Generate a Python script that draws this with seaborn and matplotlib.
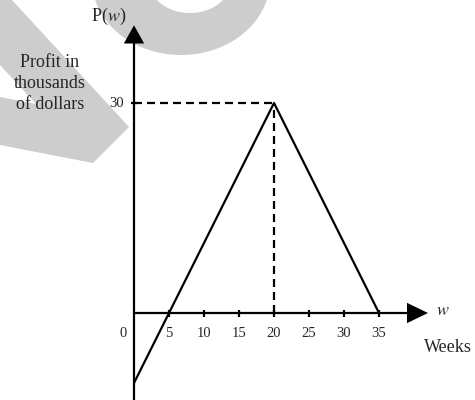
import numpy as np
import matplotlib
matplotlib.use("Agg")
import matplotlib.pyplot as plt
import seaborn as sns
import pandas as pd
from matplotlib.patches import Polygon

# Piecewise-linear profit function P(w), in thousands of dollars
weeks = [0, 20, 35]
profit = [-10, 30, 0]
week_ticks = [5, 10, 15, 20, 25, 30, 35]
profit_ticks = [30]

sns.set_theme(style="white")
plt.rcParams["font.family"] = ["Liberation Serif", "DejaVu Serif"]
plt.rcParams["mathtext.fontset"] = "stix"

W, H = 475, 400
fig = plt.figure(figsize=(W / 100, H / 100), dpi=100)

# light grey decorative shapes behind the graph (pixel space)
bg = fig.add_axes([0, 0, 1, 1], zorder=0)
bg.set_xlim(0, W)
bg.set_ylim(H, 0)
bg.axis("off")
grey = "#cdcdcd"
bg.add_patch(Polygon([(0, 0), (12, 0), (129, 127), (93, 163), (0, 145),
                      (0, 97), (36, 104), (0, 65)],
                     closed=True, facecolor=grey, edgecolor="none"))
t = np.linspace(0, np.pi, 80)
outer = np.column_stack([181 - 89 * np.cos(t), -20 + 75 * np.sin(t)])
inner = np.column_stack([190 + 41.5 * np.cos(t), -20 + 33 * np.sin(t)])
bg.add_patch(Polygon(np.vstack([outer, inner]), closed=True,
                     facecolor=grey, edgecolor="none"))

# graph in data units, 7 px per unit on both axes
ax = fig.add_axes([0, 0, 1, 1], zorder=1)
ax.patch.set_alpha(0)
ax.set_xlim(-134 / 7, (W - 134) / 7)
ax.set_ylim((313 - H) / 7, 313 / 7)
ax.axis("off")

lw = 1.6
# horizontal axis with arrowhead
ax.plot([0, 39.5], [0, 0], color="black", lw=lw, solid_capstyle="butt")
ax.fill([39, 42, 39], [1.45, 0, -1.45], color="black", lw=0)
# vertical axis with arrowhead
ax.plot([0, 0], [-13, 39], color="black", lw=lw, solid_capstyle="butt")
ax.fill([-1.45, 0, 1.45], [38.5, 41.1, 38.5], color="black", lw=0)

# tick marks and labels
for w in week_ticks:
    ax.plot([w, w], [-0.5, 0.5], color="black", lw=lw, solid_capstyle="butt")
    ax.text(w, -2.9, str(w), ha="center", va="center", fontsize=10.5)
for p in profit_ticks:
    ax.plot([-0.45, 0.45], [p, p], color="black", lw=lw, solid_capstyle="butt")
    ax.text(-1.5, p, str(p), ha="right", va="center", fontsize=10.5)
ax.text(-1.6, -2.9, "0", ha="center", va="center", fontsize=10.5)

# profit line
df = pd.DataFrame({"week": weeks, "profit": profit})
sns.lineplot(data=df, x="week", y="profit", ax=ax, color="black", lw=1.6,
             sort=False, legend=False)

# dashed guides from the peak
peak = df.loc[df["profit"].idxmax()]
dash = (0, (8 * 0.72 / lw, 5 * 0.72 / lw))
ax.plot([0, peak["week"]], [peak["profit"], peak["profit"]],
        color="black", lw=lw, ls=dash)
ax.plot([peak["week"], peak["week"]], [0, peak["profit"]],
        color="black", lw=lw, ls=dash)

# axis titles
ax.text(-3.6, 42.3, r"P($w$)", ha="center", va="center", fontsize=13)
ax.text(-12, 32.8, "Profit in\nthousands\nof dollars", ha="center",
        va="center", fontsize=13, linespacing=1.3)
ax.text(44.1, 0.3, r"$w$", ha="center", va="center", fontsize=13)
ax.text(44.9, -5, "Weeks", ha="center", va="center", fontsize=13)

fig.savefig("out.png", dpi=100)
